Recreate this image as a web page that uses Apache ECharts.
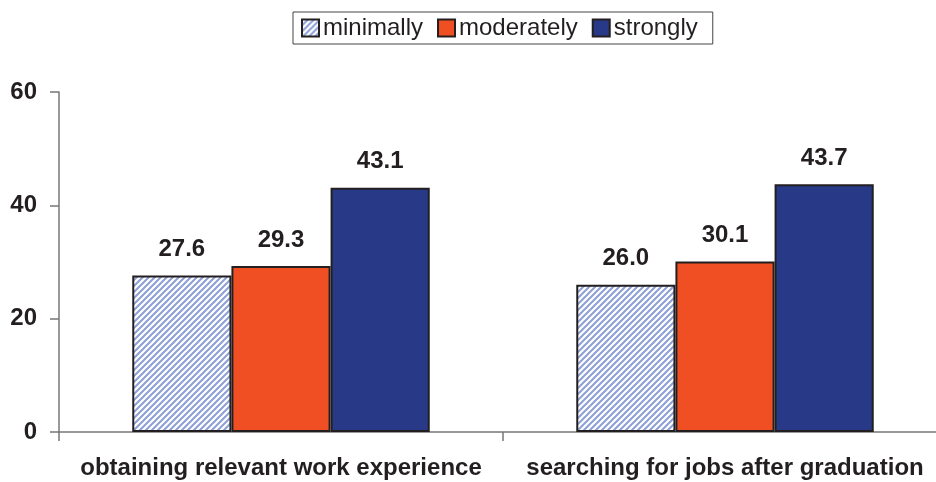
<!DOCTYPE html>
<html>
<head>
<meta charset="utf-8">
<script src="https://cdn.jsdelivr.net/npm/echarts@6/dist/echarts.min.js"></script>
<style>
  html, body { margin: 0; padding: 0; background: #fff; }
  #chart { width: 936px; height: 482px; }
</style>
</head>
<body>
<div id="chart"></div>
<script>
// Share of respondents, by how strongly the factor mattered
const categories = ['obtaining relevant work experience', 'searching for jobs after graduation'];
const seriesNames = ['minimally', 'moderately', 'strongly'];
const minimally = [27.6, 26.0];
const moderately = [29.3, 30.1];
const strongly = [43.1, 43.7];
const yTicks = [0, 20, 40, 60];

// Diagonal hatch fill for the "minimally" bars
function makeHatch() {
  const c = document.createElement('canvas');
  c.width = 6; c.height = 6;
  const g = c.getContext('2d');
  g.fillStyle = '#ffffff';
  g.fillRect(0, 0, 6, 6);
  g.strokeStyle = '#8da0d6';
  g.lineWidth = 2;
  g.beginPath();
  g.moveTo(-1, 7); g.lineTo(7, -1);
  g.moveTo(-4, 4); g.lineTo(4, -4);
  g.moveTo(2, 10); g.lineTo(10, 2);
  g.stroke();
  return c;
}

const font = 'Liberation Sans, Arial, sans-serif';
const chart = echarts.init(document.getElementById('chart'));

const labelStyle = {
  show: true,
  position: 'top',
  distance: 14,
  fontFamily: font,
  fontWeight: 'bold',
  fontSize: 24,
  color: '#231f20',
  formatter: p => p.value.toFixed(1)
};
const border = { borderColor: '#231f20', borderWidth: 2 };

chart.setOption({
  animation: false,
  backgroundColor: '#fff',
  // the plot runs a little past the right edge of the canvas
  grid: { left: 59, width: 888, top: 92, height: 340, containLabel: false, outerBoundsMode: 'none' },
  legend: {
    data: seriesNames,
    left: 293,
    top: 12,
    icon: 'rect',
    itemWidth: 17,
    itemHeight: 17,
    itemGap: 14,
    padding: [4, 15, 4, 8],
    borderColor: '#444',
    borderWidth: 1,
    textStyle: { fontFamily: font, fontSize: 24, color: '#231f20', padding: [0, 0, 0, -1] },
    itemStyle: { borderColor: '#231f20', borderWidth: 2 }
  },
  xAxis: {
    type: 'category',
    data: categories,
    axisLine: { lineStyle: { color: '#777', width: 1.5 } },
    axisTick: { show: true, length: 9, lineStyle: { color: '#777', width: 1.5 } },
    axisLabel: {
      interval: 0, hideOverlap: false,
      fontFamily: font, fontWeight: 'bold', fontSize: 24, color: '#231f20', margin: 24
    }
  },
  yAxis: {
    type: 'value',
    min: yTicks[0],
    max: yTicks[yTicks.length - 1],
    interval: 20,
    splitLine: { show: false },
    axisLine: { show: true, lineStyle: { color: '#777', width: 1.5 } },
    axisTick: { show: true, length: 9, lineStyle: { color: '#777', width: 1.5 } },
    axisLabel: {
      fontFamily: font, fontWeight: 'bold', fontSize: 24, color: '#231f20', margin: 22
    }
  },
  series: [
    {
      name: seriesNames[0], type: 'bar', data: minimally,
      barGap: '0%', barCategoryGap: '33%',
      itemStyle: Object.assign({ color: { image: makeHatch(), repeat: 'repeat' } }, border),
      label: labelStyle
    },
    {
      name: seriesNames[1], type: 'bar', data: moderately,
      itemStyle: Object.assign({ color: '#f04e23' }, border),
      label: labelStyle
    },
    {
      name: seriesNames[2], type: 'bar', data: strongly,
      itemStyle: Object.assign({ color: '#283a87' }, border),
      label: labelStyle
    }
  ]
});
</script>
</body>
</html>
